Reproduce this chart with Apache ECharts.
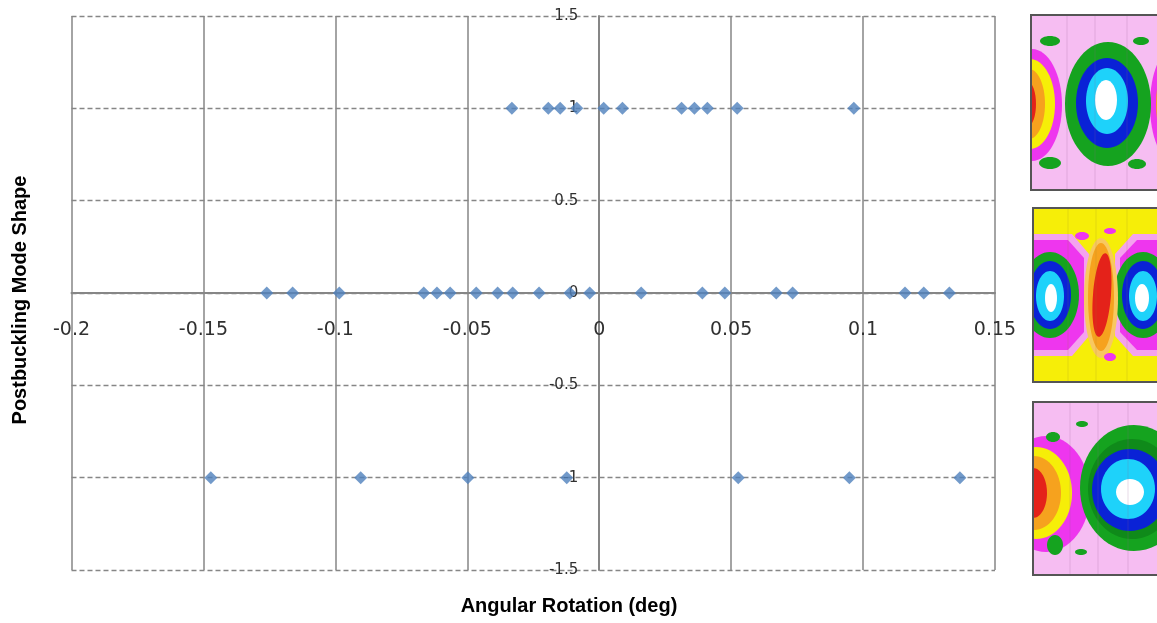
<!DOCTYPE html>
<html>
<head>
<meta charset="utf-8">
<title>Postbuckling Mode Shape vs Angular Rotation</title>
<script src="https://cdn.jsdelivr.net/npm/echarts@6/dist/echarts.min.js"></script>
<style>
  html, body { margin: 0; padding: 0; background: #ffffff; }
  #chart { width: 1157px; height: 623px; }
</style>
</head>
<body>
<div id="chart"></div>
<script>
// Angular rotation (deg) at which each postbuckling mode shape was observed
const rotationModePos1 = [-0.0331, -0.0193, -0.0148, -0.0085, 0.0017, 0.0088, 0.0312, 0.0361, 0.0410, 0.0523, 0.0965];
const rotationMode0 = [-0.1260, -0.1162, -0.0985, -0.0665, -0.0615, -0.0565, -0.0466, -0.0385, -0.0328, -0.0228,
  -0.0111, -0.0036, 0.0159, 0.0391, 0.0476, 0.0671, 0.0733, 0.1159, 0.1230, 0.1327];
const rotationModeNeg1 = [-0.1472, -0.0904, -0.0498, -0.0123, 0.0527, 0.0948, 0.1367];

// Mode shape identifiers
const modeLevels = [1, 0, -1];

// Axis ticks
const xTicks = [-0.2, -0.15, -0.1, -0.05, 0, 0.05, 0.1, 0.15];
const xTickLabels = ['-0.2', '-0.15', '-0.1', '-0.05', '0', '0.05', '0.1', '0.15'];
const yTicks = [-1.5, -1, -0.5, 0, 0.5, 1, 1.5];
const yTickLabels = ['-1.5', '-1', '-0.5', '0', '0.5', '1', '1.5'];

function tickLabel(ticks, labels) {
  return function (v) {
    for (let i = 0; i < ticks.length; i++) {
      if (Math.abs(ticks[i] - v) < 1e-9) return labels[i];
    }
    return '';
  };
}

const points = [];
[rotationModePos1, rotationMode0, rotationModeNeg1].forEach(function (arr, i) {
  arr.forEach(function (x) { points.push([x, modeLevels[i]]); });
});

// plot rectangle
const GRID = { left: 71.5, right: 162, top: 16, bottom: 53 };
const plotW = 1157 - GRID.left - GRID.right;
const plotH = 623 - GRID.top - GRID.bottom;
const xMin = xTicks[0], xMax = xTicks[xTicks.length - 1];
const yMin = yTicks[0], yMax = yTicks[yTicks.length - 1];
// axes cross at the origin: shift each axis from the grid edge to the zero line
const xAxisShift = -plotH * (0 - yMin) / (yMax - yMin);
const yAxisShift = -plotW * (0 - xMin) / (xMax - xMin);

// ---- mode shape contour thumbnails on the right ----
const C = {
  pink: '#f6bdf2', magenta: '#ee36ee', paleMag: '#f4a2ee', yellow: '#f6ee08', orange: '#f6a21e',
  red: '#e4221a', green: '#15a31f', darkGreen: '#0f8a1a', blue: '#0a22d6', cyan: '#1ed2fa', white: '#ffffff'
};
function ell(cx, cy, rx, ry, fill, z) {
  return { type: 'ellipse', shape: { cx: cx, cy: cy, rx: rx, ry: ry }, style: { fill: fill }, z: z || 10, silent: true };
}
function rect(x, y, w, h, fill, z) {
  return { type: 'rect', shape: { x: x, y: y, width: w, height: h }, style: { fill: fill }, z: z || 10, silent: true };
}
function poly(pts, fill, z) {
  return { type: 'polygon', shape: { points: pts }, style: { fill: fill }, z: z || 10, silent: true };
}
function vline(x, y1, y2, color) {
  return { type: 'line', shape: { x1: x, y1: y1, x2: x, y2: y2 }, style: { stroke: color, lineWidth: 1 }, z: 11, silent: true };
}
function frame(x, y, w, h) {
  return { type: 'rect', shape: { x: x, y: y, width: w, height: h }, style: { fill: 'none', stroke: '#555555', lineWidth: 2 }, z: 30, silent: true };
}

const panels = [];
// panel A (mode 1)
panels.push(rect(1031, 15, 140, 175, C.pink, 9));
panels.push(ell(1032, 105, 30, 56, C.magenta));
panels.push(ell(1030, 104, 25, 45, C.yellow));
panels.push(ell(1029, 104, 16, 35, C.orange));
panels.push(ell(1028, 104, 8, 22, C.red));
panels.push(ell(1172, 105, 22, 55, C.magenta));
panels.push(ell(1172, 104, 16, 42, C.orange));
panels.push(ell(1108, 104, 43, 62, C.green));
panels.push(ell(1107, 103, 31, 45, C.blue));
panels.push(ell(1107, 101, 21, 33, C.cyan));
panels.push(ell(1106, 100, 11, 20, C.white));
panels.push(ell(1050, 41, 10, 5, C.green));
panels.push(ell(1141, 41, 8, 4, C.green));
panels.push(ell(1050, 163, 11, 6, C.green));
panels.push(ell(1137, 164, 9, 5, C.green));
[1067, 1095, 1127].forEach(function (x) { panels.push(vline(x, 16, 189, 'rgba(150,90,150,0.22)')); });

// panel B (mode 0)
panels.push(rect(1033, 208, 140, 174, C.yellow, 9));
panels.push(poly([[1030, 234], [1072, 234], [1089, 254], [1089, 336], [1072, 356], [1030, 356]], C.paleMag));
panels.push(poly([[1030, 240], [1068, 240], [1084, 258], [1084, 332], [1068, 350], [1030, 350]], C.magenta));
panels.push(poly([[1175, 234], [1133, 234], [1115, 254], [1115, 336], [1133, 356], [1175, 356]], C.paleMag));
panels.push(poly([[1175, 240], [1137, 240], [1120, 258], [1120, 332], [1137, 350], [1175, 350]], C.magenta));
panels.push(ell(1050, 295, 29, 43, C.green));
panels.push(ell(1050, 295, 21, 34, C.blue));
panels.push(ell(1050, 296, 14, 25, C.cyan));
panels.push(ell(1051, 298, 6, 14, C.white));
panels.push(ell(1143, 295, 29, 43, C.green));
panels.push(ell(1143, 295, 21, 34, C.blue));
panels.push(ell(1143, 296, 14, 25, C.cyan));
panels.push(ell(1142, 298, 7, 14, C.white));
panels.push(ell(1101, 298, 17, 60, '#f8c860'));
panels.push(ell(1101, 297, 13, 54, C.orange));
panels.push({ type: 'ellipse', shape: { cx: 1102, cy: 295, rx: 9, ry: 42 }, rotation: -0.08, originX: 1102, originY: 295, style: { fill: C.red }, z: 10, silent: true });
panels.push(ell(1082, 236, 7, 4, C.magenta));
panels.push(ell(1110, 231, 6, 3, C.magenta));
panels.push(ell(1110, 357, 6, 4, C.magenta));
[1068, 1096, 1127].forEach(function (x) { panels.push(vline(x, 209, 381, 'rgba(150,130,40,0.2)')); });

// panel C (mode -1)
panels.push(rect(1033, 402, 140, 173, C.pink, 9));
panels.push(ell(1046, 494, 44, 58, C.magenta));
panels.push(ell(1036, 493, 36, 46, C.yellow));
panels.push(ell(1034, 493, 27, 37, C.orange));
panels.push(ell(1033, 493, 14, 25, C.red));
panels.push(ell(1134, 488, 54, 63, C.green));
panels.push(ell(1132, 489, 44, 50, C.darkGreen));
panels.push(ell(1130, 490, 38, 41, C.blue));
panels.push(ell(1128, 489, 27, 30, C.cyan));
panels.push(ell(1130, 492, 14, 13, C.white));
panels.push(ell(1053, 437, 7, 5, C.green));
panels.push(ell(1082, 424, 6, 3, C.green));
panels.push(ell(1055, 545, 8, 10, C.green));
panels.push(ell(1081, 552, 6, 3, C.green));
[1070, 1098, 1128].forEach(function (x) { panels.push(vline(x, 403, 574, 'rgba(150,90,150,0.22)')); });

// white margins keep each thumbnail inside its frame
panels.push(rect(1000, 0, 31, 196, '#ffffff', 20));
panels.push(rect(1020, 196, 13, 200, '#ffffff', 20));
panels.push(rect(1000, 396, 33, 227, '#ffffff', 20));
panels.push(rect(1000, 0, 157, 15, '#ffffff', 20));
panels.push(rect(1000, 190, 157, 18, '#ffffff', 20));
panels.push(rect(1000, 382, 157, 20, '#ffffff', 20));
panels.push(rect(1000, 575, 157, 48, '#ffffff', 20));
panels.push(frame(1031, 15, 140, 175));
panels.push(frame(1033, 208, 140, 174));
panels.push(frame(1033, 402, 140, 173));

// axis titles
panels.push({
  type: 'text', x: 569, y: 606, z: 30, silent: true,
  style: { text: 'Angular Rotation (deg)', font: 'bold 20px "Liberation Sans", Arial, sans-serif', fill: '#000000', align: 'center', verticalAlign: 'middle' }
});
panels.push({
  type: 'text', x: 20, y: 300, rotation: Math.PI / 2, z: 30, silent: true,
  style: { text: 'Postbuckling Mode Shape', font: 'bold 20px "Liberation Sans", Arial, sans-serif', fill: '#000000', align: 'center', verticalAlign: 'middle' }
});

const chart = echarts.init(document.getElementById('chart'), null, { renderer: 'canvas' });
chart.setOption({
  backgroundColor: '#ffffff',
  animation: false,
  grid: { left: GRID.left, right: GRID.right, top: GRID.top, bottom: GRID.bottom, containLabel: false },
  xAxis: {
    type: 'value',
    position: 'bottom',
    offset: xAxisShift,
    min: xMin, max: xMax, interval: 0.05,
    axisLine: { show: true, onZero: false, lineStyle: { color: '#868686', width: 2 } },
    axisTick: { show: false },
    axisLabel: {
      margin: 28, fontSize: 19, fontFamily: '"DejaVu Sans", Verdana, sans-serif', color: '#303030',
      formatter: tickLabel(xTicks, xTickLabels), showMinLabel: true, showMaxLabel: true
    },
    splitLine: { show: true, lineStyle: { color: '#868686', width: 1.5, type: 'solid' } }
  },
  yAxis: {
    type: 'value',
    position: 'left',
    offset: yAxisShift,
    min: yMin, max: yMax, interval: 0.5,
    axisLine: { show: true, onZero: false, lineStyle: { color: '#868686', width: 2 } },
    axisTick: { show: false },
    axisLabel: {
      margin: 21, fontSize: 15, fontFamily: '"DejaVu Sans", Verdana, sans-serif', color: '#303030',
      formatter: tickLabel(yTicks, yTickLabels), showMinLabel: true, showMaxLabel: true
    },
    splitLine: { show: true, lineStyle: { color: '#868686', width: 1.3, type: [5, 3] } }
  },
  series: [{
    type: 'scatter',
    data: points,
    symbol: 'diamond',
    symbolSize: [13, 13],
    itemStyle: { color: '#4f81bd' },
    z: 3
  }],
  graphic: panels
});
</script>
</body>
</html>
